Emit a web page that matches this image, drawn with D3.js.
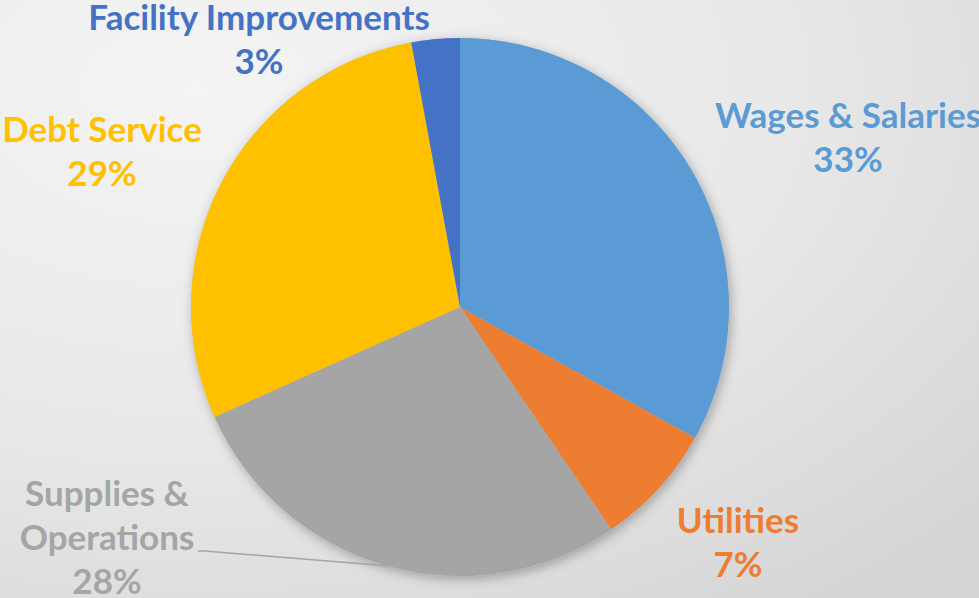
<!DOCTYPE html>
<html><head><meta charset="utf-8">
<script src="https://cdn.jsdelivr.net/npm/d3@7"></script>
<style>html,body{margin:0;padding:0;overflow:hidden;background:#e8e8e8}</style>
</head><body>
<svg id="c" width="979" height="598"></svg>
<script>
const categories = ["Wages & Salaries", "Utilities", "Supplies & Operations", "Debt Service", "Facility Improvements"];
const values = [33.1, 7.4, 27.8, 28.8, 2.9];
const colors = ["#5B9BD5", "#ED7D31", "#A5A5A5", "#FFC000", "#4472C4"];
// label layout: lines, centre x, first baseline y
const labelLines = [["Wages & Salaries"], ["Utilities"], ["Supplies &", "Operations"], ["Debt Service"], ["Facility Improvements"]];
const labelLayout = [
  {x: 848, y: 128},
  {x: 738, y: 533},
  {x: 107, y: 506},
  {x: 102, y: 142},
  {x: 259, y: 30}
];

const W = 979, H = 598, cx = 460, cy = 307, R = 269, lineH = 44;
const svg = d3.select("#c");
const defs = svg.append("defs");
const bg = defs.append("radialGradient").attr("id","bg").attr("cx","0.2").attr("cy","0.15").attr("r","1.1");
bg.append("stop").attr("offset","0").attr("stop-color","#f4f4f4");
bg.append("stop").attr("offset","0.55").attr("stop-color","#e8e8e8");
bg.append("stop").attr("offset","1").attr("stop-color","#d4d4d4");
const f = defs.append("filter").attr("id","sh").attr("x","-20%").attr("y","-20%").attr("width","140%").attr("height","140%");
f.append("feDropShadow").attr("dx",2).attr("dy",3).attr("stdDeviation",6).attr("flood-color","#000").attr("flood-opacity",0.3);

svg.append("rect").attr("width",W).attr("height",H).attr("fill","url(#bg)");

const pie = d3.pie().sort(null).value(d => d)(values);
const arc = d3.arc().innerRadius(0).outerRadius(R);
const g = svg.append("g").attr("transform",`translate(${cx},${cy})`);
g.append("circle").attr("r",R).attr("fill","#bbb").attr("filter","url(#sh)");
g.selectAll("path").data(pie).join("path").attr("d",arc).attr("fill",(d,i)=>colors[i]);

const fmt = v => Math.round(v) + "%";
// leader line for Supplies & Operations
const sp = pie[2];
const ang = sp.startAngle + (sp.endAngle - sp.startAngle) * 0.5;
const ex = cx + Math.sin(ang) * R, ey = cy - Math.cos(ang) * R;
svg.append("polyline")
  .attr("points", `${ex},${ey} 205,551 198,551`)
  .attr("fill","none").attr("stroke","#A5A5A5").attr("stroke-width",1.5);

labelLines.forEach((lines, i) => {
  const t = svg.append("text")
    .attr("text-anchor","middle")
    .attr("font-family","Lato, 'Open Sans', sans-serif")
    .attr("font-weight","bold")
    .attr("font-size",35)
    .attr("fill",colors[i]);
  const all = lines.concat([fmt(values[i])]);
  all.forEach((s, k) => {
    t.append("tspan").attr("x",labelLayout[i].x).attr("y",labelLayout[i].y + k*lineH).text(s);
  });
});
</script>
</body></html>
